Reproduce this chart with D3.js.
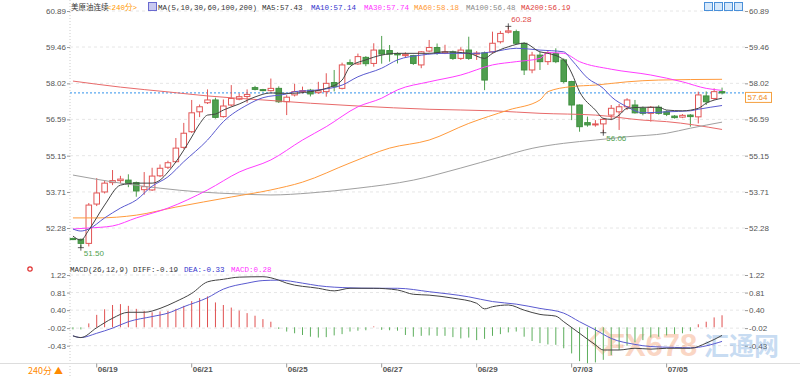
<!DOCTYPE html>
<html>
<head>
<meta charset="UTF-8">
<style>
  body { margin: 0; background: #fff; }
  svg { display: block; font-family: "Liberation Sans", Arial, sans-serif; }
  .axis text { fill: #555; font-size: 8px; }
  .axis path { display: none; }
  .axis line { stroke: #999; }
  .mono { font-family: "Liberation Mono", "DejaVu Sans Mono", "Noto Sans CJK SC", monospace; font-size: 7.5px; }
</style>
<script src="https://cdn.jsdelivr.net/npm/d3@7"></script>
</head>
<body>
<svg id="chart"></svg>
<script>
// candles, 240 min bars
const opens  = [51.86,51.83,51.67,53.23,53.71,54.08,54.16,54.18,54.08,53.80,53.79,54.35,54.69,54.91,55.48,56.10,56.89,57.25,57.36,56.70,
                57.16,57.39,57.50,57.85,57.77,57.73,57.82,57.29,57.56,57.69,57.75,57.65,57.69,58.05,57.82,58.84,58.79,59.05,58.81,59.34,
                59.32,59.20,59.12,59.12,58.75,59.30,59.44,59.22,59.27,59.01,59.34,59.18,59.23,59.27,59.67,60.05,60.07,59.61,58.55,59.14,
                58.88,59.20,58.95,58.09,57.16,56.46,56.37,56.41,56.76,56.89,57.09,57.16,57.03,56.83,57.07,56.89,56.72,56.68,56.76,56.69,
                57.52,57.42,57.69];
const highs  = [51.90,51.86,53.27,54.26,54.15,54.58,54.35,54.41,54.12,54.50,54.67,54.80,54.95,55.85,56.45,57.36,57.18,57.78,57.45,57.38,
                57.95,57.62,57.78,57.92,57.80,58.21,57.90,57.55,58.00,57.89,57.80,58.08,58.42,58.55,58.84,58.97,59.20,59.10,59.61,59.90,
                59.54,59.25,59.25,59.15,59.30,59.74,59.60,59.55,59.32,59.45,59.87,59.30,59.28,60.07,60.10,60.28,60.15,59.65,59.27,59.27,
                59.30,59.41,59.01,58.12,57.18,56.70,56.56,56.65,57.16,57.20,57.43,57.36,57.10,57.12,57.15,56.95,56.76,56.80,56.80,57.69,
                57.70,57.82,57.85];
const lows   = [51.80,51.50,51.55,53.15,53.65,53.98,54.05,53.90,53.52,53.60,53.75,54.30,54.62,54.88,55.42,56.05,56.68,57.20,56.62,56.66,
                57.10,57.35,57.25,57.74,57.70,57.69,57.24,56.76,57.50,57.62,57.50,57.60,57.49,57.70,57.78,58.75,58.75,58.70,58.68,58.80,
                58.88,58.81,59.05,58.75,58.62,59.25,59.15,59.18,58.95,58.95,58.95,58.95,57.75,59.20,59.60,60.00,59.55,58.35,58.42,58.55,
                58.75,58.82,58.02,56.56,56.10,56.30,56.30,56.06,56.56,56.17,56.96,56.82,56.75,56.50,56.78,56.72,56.62,56.64,56.30,56.43,
                57.16,57.36,57.58];
const closes = [51.84,51.67,53.19,53.67,54.06,54.16,54.22,54.05,53.75,53.92,54.34,54.65,54.87,55.45,56.04,56.85,57.09,57.36,56.67,57.12,
                57.42,57.49,57.58,57.78,57.74,57.82,57.29,57.47,57.69,57.73,57.60,57.72,58.02,57.89,58.75,58.78,59.08,58.80,59.34,59.18,
                59.18,59.15,59.17,58.81,59.27,59.44,59.21,59.27,59.01,59.34,59.01,59.22,58.15,59.61,60.00,60.10,59.61,58.55,59.14,58.88,
                59.23,58.88,58.09,57.16,56.30,56.37,56.41,56.59,57.03,57.09,57.36,56.85,56.83,57.07,56.83,56.79,56.66,56.75,56.70,57.56,
                57.29,57.69,57.64];

// moving averages: [bar index, value]
const ma5   = [[0,51.96],[1,51.80],[2,52.20],[4,53.19],[6,53.98],[8,54.06],[10,54.06],[11,54.18],[12,54.50],[13,54.90],[14,55.37],
               [15,55.89],[16,56.41],[17,56.76],[18,56.80],[19,56.96],[21,57.20],[23,57.48],[25,57.64],[27,57.62],[30,57.69],[32,57.82],
               [34,58.15],[35,58.68],[37,58.95],[39,59.14],[41,59.21],[45,59.21],[47,59.27],[50,59.21],[52,59.01],[53,59.21],[55,59.47],
               [57,59.61],[59,59.27],[60,59.21],[62,58.95],[63,58.43],[64,57.69],[66,56.96],[67,56.63],[68,56.59],[69,56.76],[70,57.03],
               [72,57.07],[74,57.07],[75,56.96],[77,56.93],[79,57.03],[80,57.23],[82,57.43]];
const ma10  = [[0,52.24],[1,52.16],[2,52.24],[4,52.68],[6,53.07],[8,53.39],[10,53.94],[12,54.31],[14,54.91],[17,55.77],[19,56.50],
               [22,57.16],[24,57.45],[27,57.60],[28,57.69],[31,57.76],[34,57.95],[36,58.28],[39,58.62],[41,58.95],[44,59.14],[47,59.21],
               [51,59.21],[53,59.27],[56,59.41],[59,59.34],[62,59.27],[63,58.95],[65,58.23],[67,57.82],[68,57.49],[70,57.09],[72,56.85],
               [75,56.89],[78,56.93],[79,56.99],[82,57.14]];
const ma30  = [[0,52.24],[2,52.28],[5,52.36],[8,52.68],[12,53.07],[17,53.79],[21,54.50],[25,54.98],[29,55.77],[32,56.30],[36,57.09],
               [39,57.43],[41,57.76],[45,58.08],[49,58.35],[53,58.75],[56,58.88],[59,59.01],[60,59.24],[62,59.21],[64,58.88],[68,58.58],
               [73,58.35],[77,58.08],[80,57.82],[82,57.74]];
const ma60  = [[0,52.68],[3,52.68],[8,52.79],[13,53.11],[20,53.51],[25,53.79],[29,54.10],[35,54.86],[40,55.45],[45,55.77],[50,56.43],
               [55,56.96],[59,57.36],[60,57.69],[63,57.89],[66,57.95],[70,58.08],[74,58.15],[82,58.18]];
const ma100 = [[0,54.38],[6,54.06],[11,53.86],[16,53.71],[21,53.63],[25,53.59],[30,53.67],[36,53.86],[43,54.18],[49,54.66],[54,55.10],
               [58,55.44],[62,55.64],[66,55.77],[70,55.90],[75,56.04],[78,56.24],[82,56.48]];
const ma200 = [[0,58.11],[6,57.87],[12,57.68],[17,57.52],[24,57.36],[30,57.23],[36,57.12],[45,56.99],[53,56.93],[59,56.83],[66,56.76],
               [72,56.56],[75,56.50],[82,56.19]];

// MACD(26,12,9)
const macdHist = [-0.05,-0.05,0.09,0.29,0.42,0.52,0.54,0.50,0.43,0.38,0.35,0.37,0.38,0.43,0.50,0.61,0.68,0.72,0.58,0.52,
                  0.46,0.39,0.33,0.27,0.19,0.13,-0.04,-0.10,-0.14,-0.18,-0.22,-0.24,-0.23,-0.19,-0.16,-0.10,-0.08,-0.07,0.02,-0.06,
                  -0.07,-0.08,-0.18,-0.22,-0.20,-0.19,-0.20,-0.20,-0.23,-0.26,-0.24,-0.30,-0.27,-0.20,-0.16,-0.12,-0.10,-0.22,-0.32,-0.37,
                  -0.40,-0.41,-0.49,-0.61,-0.79,-0.84,-0.82,-0.76,-0.65,-0.53,-0.43,-0.35,-0.30,-0.24,-0.22,-0.19,-0.16,-0.14,-0.09,0.07,
                  0.13,0.23,0.28];
const diff = [[0,-0.20],[1,-0.24],[3,-0.01],[5,0.21],[7,0.35],[9,0.35],[11,0.44],[13,0.60],[15,0.79],[17,1.06],[19,1.12],[21,1.17],
              [24,1.18],[26,1.10],[27,1.03],[31,0.91],[33,0.85],[35,0.91],[38,0.91],[41,0.87],[43,0.77],[45,0.75],[48,0.68],[51,0.56],
              [52,0.43],[53,0.48],[55,0.52],[57,0.40],[59,0.30],[61,0.26],[62,0.13],[64,-0.14],[66,-0.41],[67,-0.53],[69,-0.53],
              [71,-0.49],[73,-0.51],[75,-0.49],[78,-0.49],[80,-0.37],[82,-0.19]];
const dea  = [[0,-0.20],[1,-0.24],[3,-0.14],[5,-0.02],[7,0.13],[10,0.25],[12,0.33],[14,0.48],[17,0.69],[19,0.89],[22,1.03],[24,1.09],
              [26,1.10],[29,1.03],[31,0.97],[35,0.92],[38,0.91],[41,0.91],[45,0.83],[50,0.71],[53,0.60],[56,0.54],[59,0.44],[62,0.33],
              [64,0.13],[66,-0.06],[68,-0.26],[71,-0.40],[73,-0.45],[76,-0.47],[78,-0.48],[82,-0.33]];

const priceTicks = [52.28, 53.71, 55.15, 56.59, 58.02, 59.46, 60.89];
const macdTicks = [-0.43, -0.02, 0.40, 0.81, 1.22];
const dateTickIdx = [3, 15, 27, 39, 51, 63, 75];
const dateTickLabels = ['06/19', '06/21', '06/25', '06/27', '06/29', '07/03', '07/05'];
const extremeIdx = [55, 1, 67];
const extremeKind = ['high', 'low', 'low'];

const RED = '#e25555', GREEN = '#4f9f4f';

const svg = d3.select('#chart').attr('width', 800).attr('height', 376);
svg.append('rect').attr('width', 800).attr('height', 376).attr('fill', '#fff');

const plotL = 70, plotR = 745;
const x = d3.scaleBand().domain(d3.range(closes.length)).range([69, 726])
  .paddingInner(0.3).paddingOuter(0.15);
const cx = i => x(i) + x.bandwidth() / 2;
const y = d3.scaleLinear().domain([52.28, 60.89]).range([228, 11]);
const ym = d3.scaleLinear().domain([-0.43, 1.22]).range([345.7, 275]);

// grid
function grid(ticks, scale) {
  svg.append('g').selectAll('line').data(ticks).enter().append('line')
    .attr('x1', plotL).attr('x2', plotR)
    .attr('y1', d => scale(d)).attr('y2', d => scale(d))
    .attr('stroke', '#e6e6e6').attr('stroke-dasharray', '3,3');
}
grid(priceTicks, y);
grid(macdTicks, ym);

svg.append('line').attr('x1', plotL).attr('x2', plotL).attr('y1', 0).attr('y2', 376)
  .attr('stroke', '#ccc').attr('stroke-dasharray', '1,2');
svg.append('line').attr('x1', 0).attr('x2', 800).attr('y1', 363.5).attr('y2', 363.5)
  .attr('stroke', '#ddd');

// axes
function yAxes(scale, ticks, fmt) {
  svg.append('g').attr('class', 'axis').attr('transform', `translate(${plotL},0)`)
    .call(d3.axisLeft(scale).tickValues(ticks).tickSize(3).tickPadding(1).tickFormat(fmt));
  svg.append('g').attr('class', 'axis').attr('transform', `translate(${plotR},0)`)
    .call(d3.axisRight(scale).tickValues(ticks).tickSize(3).tickPadding(1).tickFormat(fmt));
}
yAxes(y, priceTicks, d3.format('.2f'));
yAxes(ym, macdTicks, d => d.toFixed(2));

const xAxis = svg.append('g').attr('class', 'axis').attr('transform', 'translate(0,363.5)')
  .call(d3.axisBottom(x).tickValues(dateTickIdx).tickSize(4)
    .tickFormat((d, i) => dateTickLabels[i]));
xAxis.selectAll('text').attr('text-anchor', 'start').attr('x', 1).attr('y', 8).attr('dy', 0)
  .attr('fill', '#444').style('font-weight', 'bold');

// watermark
const wm = svg.append('g').attr('opacity', 0.3);
wm.append('rect').attr('x', 594).attr('y', 332).attr('width', 17).attr('height', 17)
  .attr('transform', 'rotate(45 602.5 340.5)').attr('fill', 'none').attr('stroke', '#f08a40').attr('stroke-width', 3);
wm.append('text').attr('x', 606).attr('y', 356).text('FX678')
  .attr('font-size', 31).attr('font-weight', 'bold').attr('fill', '#f07a40');
wm.append('text').attr('x', 704).attr('y', 355).text('汇通网')
  .attr('font-family', 'Noto Sans CJK SC').attr('font-size', 25).attr('font-weight', 'bold').attr('fill', '#4d8fd6');

// current price line
const last = closes[closes.length - 1];
svg.append('line').attr('x1', plotL).attr('x2', plotR).attr('y1', y(last)).attr('y2', y(last))
  .attr('stroke', '#5aa8f0').attr('stroke-width', 1.3).attr('stroke-dasharray', '2,2');

// MA lines
const maLine = d3.line().x(d => cx(d[0])).y(d => y(d[1])).curve(d3.curveMonotoneX);
const maSeries = [
  {name: 'MA200', pts: ma200, color: '#e86a6a'},
  {name: 'MA100', pts: ma100, color: '#a0a0a0'},
  {name: 'MA60', pts: ma60, color: '#ff9a3c'},
  {name: 'MA30', pts: ma30, color: '#ff3cff'},
  {name: 'MA10', pts: ma10, color: '#5a5ad0'},
  {name: 'MA5', pts: ma5, color: '#444'}
];

// candles
const candles = closes.map((c, i) => ({i, o: opens[i], h: highs[i], l: lows[i], c}));
const cg = svg.append('g');
cg.selectAll('line').data(candles).enter().append('line')
  .attr('x1', d => cx(d.i)).attr('x2', d => cx(d.i))
  .attr('y1', d => y(d.h)).attr('y2', d => y(d.l))
  .attr('stroke', d => d.c >= d.o ? RED : GREEN);
cg.selectAll('rect').data(candles).enter().append('rect')
  .attr('x', d => x(d.i)).attr('width', x.bandwidth())
  .attr('y', d => y(Math.max(d.o, d.c)))
  .attr('height', d => Math.max(1, Math.abs(y(d.o) - y(d.c))))
  .attr('fill', d => d.c >= d.o ? '#fff' : GREEN)
  .attr('stroke', d => d.c >= d.o ? RED : '#3f8f3f');

svg.append('g').selectAll('path').data(maSeries).enter().append('path')
  .attr('d', d => maLine(d.pts)).attr('fill', 'none')
  .attr('stroke', d => d.color).attr('stroke-width', 1);

// extremes
extremeIdx.forEach((i, k) => {
  const isHigh = extremeKind[k] === 'high';
  const v = isHigh ? highs[i] : lows[i];
  const py = y(v);
  svg.append('path').attr('d', `M${cx(i) - 3},${py}H${cx(i) + 3}M${cx(i)},${py - 3}V${py + 3}`)
    .attr('stroke', '#333').attr('stroke-width', 0.8);
  svg.append('text').attr('x', cx(i) + 3).attr('y', isHigh ? py - 4 : py + 8)
    .attr('font-size', 8).attr('fill', isHigh ? '#e04848' : '#4fa24f').text(v.toFixed(2));
});

// MACD histogram and lines
svg.append('g').selectAll('line').data(macdHist).enter().append('line')
  .attr('x1', (d, i) => cx(i)).attr('x2', (d, i) => cx(i))
  .attr('y1', ym(0)).attr('y2', d => ym(d))
  .attr('stroke', d => d >= 0 ? '#e05050' : '#5cae5c');
const mLine = d3.line().x(d => cx(d[0])).y(d => ym(d[1])).curve(d3.curveMonotoneX);
svg.append('path').attr('d', mLine(dea)).attr('fill', 'none').attr('stroke', '#5a5ad0');
svg.append('path').attr('d', mLine(diff)).attr('fill', 'none').attr('stroke', '#444');

// legends
const topLegend = svg.append('g').attr('class', 'mono');
topLegend.append('text').attr('x', 71).attr('y', 10).attr('fill', '#333')
  .style('font-family', '"Noto Sans CJK SC"').style('font-size', '7.5px').text('美原油连续');
topLegend.append('text').attr('x', 107).attr('y', 10).attr('fill', '#ff9900').text('<240分>');
topLegend.append('rect').attr('x', 148.5).attr('y', 2.5).attr('width', 8).attr('height', 8)
  .attr('fill', '#c9c9f0').attr('stroke', '#6a6ad0');
topLegend.append('text').attr('x', 158).attr('y', 10).attr('fill', '#333').text('MA(5,10,30,60,100,200)');
const legendX = [262, 311, 364, 414, 466, 521];
const legendOrder = [ma5, ma10, ma30, ma60, ma100, ma200];
const legendNames = ['MA5', 'MA10', 'MA30', 'MA60', 'MA100', 'MA200'];
const legendColors = ['#333', '#3333cc', '#ff33ff', '#ff9933', '#888', '#e04040'];
legendOrder.forEach((pts, k) => {
  topLegend.append('text').attr('x', legendX[k]).attr('y', 10).attr('fill', legendColors[k])
    .text(legendNames[k] + ':' + pts[pts.length - 1][1].toFixed(2));
});
[704, 714, 724, 734].forEach(bx => {
  svg.append('rect').attr('x', bx + 0.5).attr('y', 2.5).attr('width', 8).attr('height', 8)
    .attr('fill', '#d6e8fa').attr('stroke', '#4a90d9');
});

const macdLegend = svg.append('g').attr('class', 'mono');
macdLegend.append('text').attr('x', 70).attr('y', 272).attr('fill', '#333')
  .text('MACD(26,12,9) DIFF:' + diff[diff.length - 1][1].toFixed(2));
macdLegend.append('text').attr('x', 184).attr('y', 272).attr('fill', '#3333cc')
  .text('DEA:' + dea[dea.length - 1][1].toFixed(2));
macdLegend.append('text').attr('x', 231).attr('y', 272).attr('fill', '#ff33ff')
  .text('MACD:' + macdHist[macdHist.length - 1].toFixed(2));
svg.append('circle').attr('cx', 30).attr('cy', 269).attr('r', 2.2).attr('fill', 'none')
  .attr('stroke', '#e03030').attr('stroke-width', 1.2);

// last price box
svg.append('rect').attr('x', 745.5).attr('y', y(last) - 0.5).attr('width', 26).attr('height', 10)
  .attr('fill', '#fff').attr('stroke', '#f5a040');
svg.append('text').attr('x', 747.5).attr('y', y(last) + 7).attr('font-size', 8).attr('fill', '#f08a20')
  .text(last.toFixed(2));

svg.append('text').attr('x', 28).attr('y', 374).attr('font-size', 9).attr('fill', '#ff8a00')
  .style('font-family', '"Noto Sans CJK SC", sans-serif').text('240分 ▲');
</script>
</body>
</html>
